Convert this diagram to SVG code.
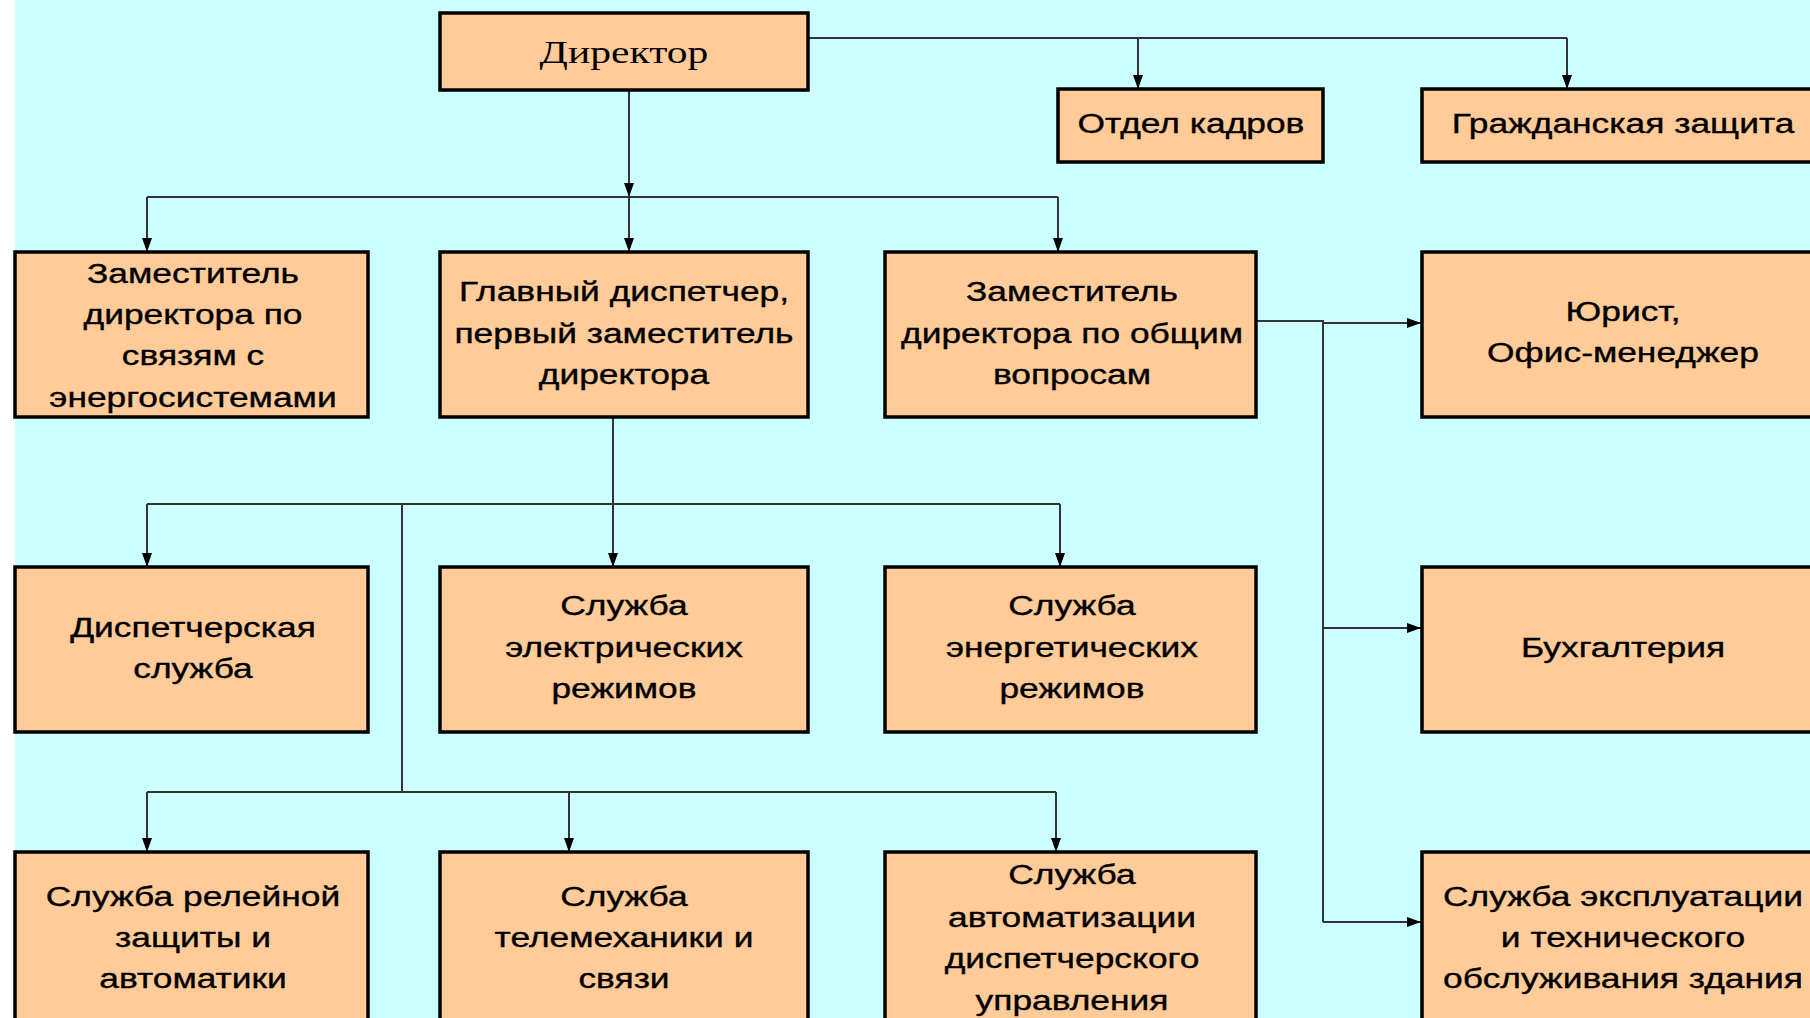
<svg xmlns="http://www.w3.org/2000/svg" width="1810" height="1018" viewBox="0 0 1810 1018">
<style>
.box{fill:#FFCC99;stroke:#000;stroke-width:3.5}
.t{font-family:"Liberation Sans",Arial,sans-serif;font-size:27px;fill:#000;stroke:#000;stroke-width:0.35;text-anchor:middle}
.ts{font-family:"Liberation Serif","Times New Roman",serif;font-size:32px;fill:#000;text-anchor:middle}
.c{fill:none;stroke:#333;stroke-width:2}
</style>
<defs>
<marker id="ar" viewBox="0 0 14 10" refX="14" refY="5" markerWidth="14" markerHeight="10" markerUnits="userSpaceOnUse" orient="auto">
<path d="M0,0 L14,5 L0,10 Z" fill="#000"/>
</marker>
</defs>
<rect x="0" y="0" width="1810" height="1018" fill="#FFFFFF"/>
<rect x="15" y="0" width="1795" height="1018" fill="#CCFFFF"/>

<g id="connectors">
<path class="c" d="M808,38 H1567"/>
<path class="c" d="M1138,38 V89" marker-end="url(#ar)"/>
<path class="c" d="M1567,38 V89" marker-end="url(#ar)"/>
<path class="c" d="M629,90 V197" marker-end="url(#ar)"/>
<path class="c" d="M147,197 H1058"/>
<path class="c" d="M147,197 V252" marker-end="url(#ar)"/>
<path class="c" d="M629,197 V252" marker-end="url(#ar)"/>
<path class="c" d="M1058,197 V252" marker-end="url(#ar)"/>
<path class="c" d="M613,417 V567" marker-end="url(#ar)"/>
<path class="c" d="M147,504 H1060"/>
<path class="c" d="M147,504 V567" marker-end="url(#ar)"/>
<path class="c" d="M1060,504 V567" marker-end="url(#ar)"/>
<path class="c" d="M402,504 V792"/>
<path class="c" d="M147,792 H1056"/>
<path class="c" d="M147,792 V852" marker-end="url(#ar)"/>
<path class="c" d="M569,792 V852" marker-end="url(#ar)"/>
<path class="c" d="M1056,792 V852" marker-end="url(#ar)"/>
<path class="c" d="M1256,321 H1323 V922"/>
<path class="c" d="M1323,323 H1421" marker-end="url(#ar)"/>
<path class="c" d="M1323,628 H1421" marker-end="url(#ar)"/>
<path class="c" d="M1323,922 H1421" marker-end="url(#ar)"/>
</g>

<g id="director">
<rect class="box" x="440" y="13" width="368" height="77"/>
<text class="ts" transform="translate(624,63) scale(1.3,1)">Директор</text>
</g>
<g id="kadry">
<rect class="box" x="1058" y="89" width="265" height="73"/>
<text class="t" transform="translate(1191,133) scale(1.31,1)">Отдел кадров</text>
</g>
<g id="grazhd">
<rect class="box" x="1422" y="89" width="420" height="73"/>
<text class="t" transform="translate(1623,133) scale(1.31,1)">Гражданская защита</text>
</g>

<g id="zam-energo">
<rect class="box" x="15" y="252" width="353" height="165"/>
<text class="t" transform="translate(193,283) scale(1.31,1)">Заместитель</text>
<text class="t" transform="translate(193,324) scale(1.31,1)">директора по</text>
<text class="t" transform="translate(193,365) scale(1.31,1)">связям с</text>
<text class="t" transform="translate(193,407) scale(1.31,1)">энергосистемами</text>
</g>
<g id="glavdisp">
<rect class="box" x="440" y="252" width="368" height="165"/>
<text class="t" transform="translate(624,301) scale(1.31,1)">Главный диспетчер,</text>
<text class="t" transform="translate(624,343) scale(1.31,1)">первый заместитель</text>
<text class="t" transform="translate(624,384) scale(1.31,1)">директора</text>
</g>
<g id="zam-obsh">
<rect class="box" x="885" y="252" width="371" height="165"/>
<text class="t" transform="translate(1072,301) scale(1.31,1)">Заместитель</text>
<text class="t" transform="translate(1072,343) scale(1.31,1)">директора по общим</text>
<text class="t" transform="translate(1072,384) scale(1.31,1)">вопросам</text>
</g>
<g id="yurist">
<rect class="box" x="1422" y="252" width="420" height="165"/>
<text class="t" transform="translate(1623,321) scale(1.31,1)">Юрист,</text>
<text class="t" transform="translate(1623,362) scale(1.31,1)">Офис-менеджер</text>
</g>

<g id="disp">
<rect class="box" x="15" y="567" width="353" height="165"/>
<text class="t" transform="translate(193,637) scale(1.31,1)">Диспетчерская</text>
<text class="t" transform="translate(193,678) scale(1.31,1)">служба</text>
</g>
<g id="elrezh">
<rect class="box" x="440" y="567" width="368" height="165"/>
<text class="t" transform="translate(624,615) scale(1.31,1)">Служба</text>
<text class="t" transform="translate(624,657) scale(1.31,1)">электрических</text>
<text class="t" transform="translate(624,698) scale(1.31,1)">режимов</text>
</g>
<g id="enrezh">
<rect class="box" x="885" y="567" width="371" height="165"/>
<text class="t" transform="translate(1072,615) scale(1.31,1)">Служба</text>
<text class="t" transform="translate(1072,657) scale(1.31,1)">энергетических</text>
<text class="t" transform="translate(1072,698) scale(1.31,1)">режимов</text>
</g>
<g id="buh">
<rect class="box" x="1422" y="567" width="420" height="165"/>
<text class="t" transform="translate(1623,657) scale(1.31,1)">Бухгалтерия</text>
</g>

<g id="rza">
<rect class="box" x="15" y="852" width="353" height="190"/>
<text class="t" transform="translate(193,906) scale(1.31,1)">Служба релейной</text>
<text class="t" transform="translate(193,947) scale(1.31,1)">защиты и</text>
<text class="t" transform="translate(193,988) scale(1.31,1)">автоматики</text>
</g>
<g id="telemeh">
<rect class="box" x="440" y="852" width="368" height="190"/>
<text class="t" transform="translate(624,906) scale(1.31,1)">Служба</text>
<text class="t" transform="translate(624,947) scale(1.31,1)">телемеханики и</text>
<text class="t" transform="translate(624,988) scale(1.31,1)">связи</text>
</g>
<g id="asdu">
<rect class="box" x="885" y="852" width="371" height="190"/>
<text class="t" transform="translate(1072,884) scale(1.31,1)">Служба</text>
<text class="t" transform="translate(1072,927) scale(1.31,1)">автоматизации</text>
<text class="t" transform="translate(1072,968) scale(1.31,1)">диспетчерского</text>
<text class="t" transform="translate(1072,1010) scale(1.31,1)">управления</text>
</g>
<g id="expl">
<rect class="box" x="1422" y="852" width="420" height="190"/>
<text class="t" transform="translate(1623,906) scale(1.31,1)">Служба эксплуатации</text>
<text class="t" transform="translate(1623,947) scale(1.31,1)">и технического</text>
<text class="t" transform="translate(1623,988) scale(1.31,1)">обслуживания здания</text>
</g>
</svg>
